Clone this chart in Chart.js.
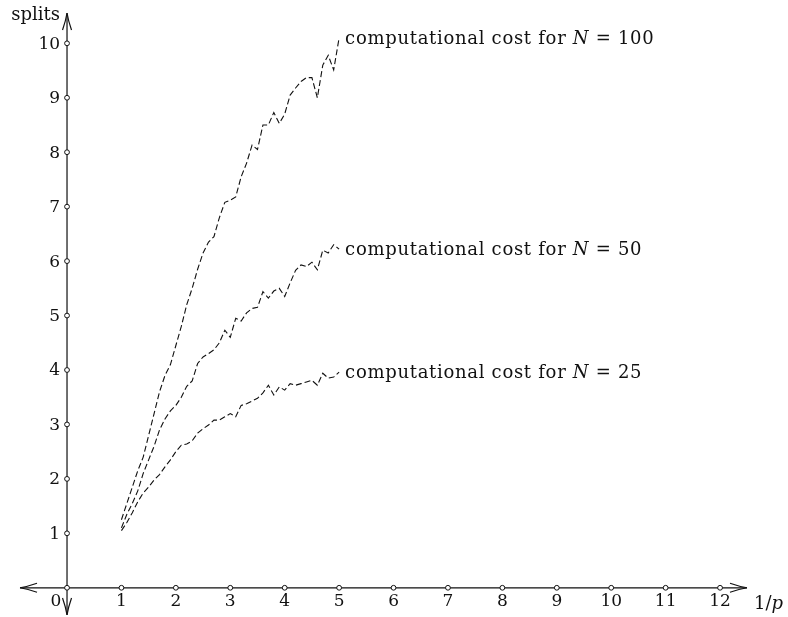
<!DOCTYPE html>
<html>
<head>
<meta charset="utf-8">
<script src="https://cdn.jsdelivr.net/npm/chart.js@4"></script>
<style>
  body { margin: 0; background: #fff; }
  canvas { display: block; }
</style>
</head>
<body>
<canvas id="chart" width="788" height="617"></canvas>
<script>
// x values (1/p) where the costs were sampled
const xs = [1.0, 1.1, 1.2, 1.3, 1.4, 1.5, 1.6, 1.7, 1.8, 1.9,
            2.0, 2.1, 2.2, 2.3, 2.4, 2.5, 2.6, 2.7, 2.8, 2.9,
            3.0, 3.1, 3.2, 3.3, 3.4, 3.5, 3.6, 3.7, 3.8, 3.9,
            4.0, 4.1, 4.2, 4.3, 4.4, 4.5, 4.6, 4.7, 4.8, 4.9, 5.0];

// splits
const cost100 = [1.25, 1.55, 1.85, 2.15, 2.4, 2.8, 3.2, 3.6, 3.9, 4.1,
                 4.45, 4.8, 5.2, 5.5, 5.85, 6.15, 6.35, 6.45, 6.8, 7.08,
                 7.12, 7.18, 7.55, 7.8, 8.13, 8.05, 8.5, 8.5, 8.73, 8.53,
                 8.7, 9.05, 9.18, 9.3, 9.37, 9.37, 9.0, 9.6, 9.78, 9.51, 10.1];
const cost50 = [1.1, 1.35, 1.55, 1.78, 2.1, 2.35, 2.6, 2.9, 3.1, 3.25,
                3.35, 3.5, 3.7, 3.8, 4.12, 4.24, 4.3, 4.37, 4.5, 4.73,
                4.6, 4.95, 4.9, 5.05, 5.13, 5.15, 5.44, 5.32, 5.45, 5.5,
                5.35, 5.6, 5.83, 5.93, 5.9, 5.98, 5.84, 6.2, 6.15, 6.3, 6.22];
const cost25 = [1.05, 1.2, 1.38, 1.58, 1.74, 1.85, 1.98, 2.08, 2.22, 2.35,
                2.5, 2.62, 2.64, 2.7, 2.84, 2.92, 2.99, 3.08, 3.08, 3.14,
                3.2, 3.14, 3.35, 3.38, 3.43, 3.48, 3.58, 3.72, 3.54, 3.69,
                3.63, 3.75, 3.72, 3.75, 3.78, 3.81, 3.72, 3.94, 3.85, 3.87, 3.96];

const seriesN = ['100', '50', '25'];
const xTicks = [1, 2, 3, 4, 5, 6, 7, 8, 9, 10, 11, 12];
const yTicks = [1, 2, 3, 4, 5, 6, 7, 8, 9, 10];
const xTitle = '1/p';
const yTitle = 'splits';

const SERIF = '"DejaVu Serif", "Liberation Serif", serif';
const TICK_FONT = '17px ';
const TEXT_FONT = '18px ';

const toPoints = (vals) => vals.map((v, i) => ({ x: xs[i], y: v }));

// arrow head in the LaTeX style, (dx, dy) is the direction the tip points to
function arrowHead(ctx, tx, ty, dx, dy) {
    const len = 17, half = 4.5;
    const nx = -dy, ny = dx;
    ctx.beginPath();
    [-1, 1].forEach(s => {
        ctx.moveTo(tx, ty);
        ctx.quadraticCurveTo(tx - dx * len * 0.45 + nx * s * 1.2, ty - dy * len * 0.45 + ny * s * 1.2,
                             tx - dx * len + nx * s * half, ty - dy * len + ny * s * half);
    });
    ctx.stroke();
}

const axesPlugin = {
    id: 'texAxes',
    afterDraw(chart) {
        const ctx = chart.ctx;
        const xS = chart.scales.x, yS = chart.scales.y;
        const x0 = xS.getPixelForValue(0), y0 = yS.getPixelForValue(0);
        ctx.save();
        ctx.strokeStyle = '#111';
        ctx.lineWidth = 1.2;
        ctx.setLineDash([]);

        // axis lines
        ctx.beginPath();
        ctx.moveTo(xS.left, y0); ctx.lineTo(xS.right, y0);
        ctx.moveTo(x0, yS.top); ctx.lineTo(x0, yS.bottom);
        ctx.stroke();

        arrowHead(ctx, xS.right, y0, 1, 0);
        arrowHead(ctx, xS.left, y0, -1, 0);
        arrowHead(ctx, x0, yS.top, 0, -1);
        arrowHead(ctx, x0, yS.bottom, 0, 1);

        // tick circles
        const circle = (cx, cy) => {
            ctx.beginPath();
            ctx.arc(cx, cy, 2.4, 0, Math.PI * 2);
            ctx.fillStyle = '#fff';
            ctx.fill();
            ctx.lineWidth = 1;
            ctx.stroke();
        };
        circle(x0, y0);
        xTicks.forEach(v => circle(xS.getPixelForValue(v), y0));
        yTicks.forEach(v => circle(x0, yS.getPixelForValue(v)));

        // tick labels
        ctx.fillStyle = '#111';
        ctx.font = TICK_FONT + SERIF;
        ctx.textBaseline = 'middle';
        ctx.textAlign = 'center';
        xTicks.forEach(v => ctx.fillText(String(v), xS.getPixelForValue(v), y0 + 14));
        ctx.fillText('0', x0 - 11, y0 + 14);
        ctx.textAlign = 'right';
        yTicks.forEach(v => ctx.fillText(String(v), x0 - 7, yS.getPixelForValue(v) + 1));

        // axis titles
        ctx.font = TEXT_FONT + SERIF;
        ctx.textAlign = 'right';
        ctx.textBaseline = 'alphabetic';
        ctx.fillText(yTitle, x0 - 7, 20);
        ctx.textAlign = 'left';
        ctx.textBaseline = 'middle';
        const [num, den] = xTitle.split('/');
        let tx = xS.right + 7;
        ctx.fillText(num + '/', tx, y0 + 17);
        tx += ctx.measureText(num + '/').width;
        ctx.font = 'italic ' + TEXT_FONT + SERIF;
        ctx.fillText(den, tx, y0 + 17);

        // curve labels at the end of each curve
        ctx.letterSpacing = '0.7px';
        chart.data.datasets.forEach((ds, i) => {
            const meta = chart.getDatasetMeta(i);
            const last = meta.data[meta.data.length - 1];
            let lx = last.x + 6;
            const ly = last.y + 1;
            const parts = [
                ['computational cost for ', ''],
                ['N', 'italic '],
                [' = ' + seriesN[i], '']
            ];
            parts.forEach(([t, st]) => {
                ctx.font = st + TEXT_FONT + SERIF;
                ctx.fillText(t, lx, ly);
                lx += ctx.measureText(t).width;
            });
        });
        ctx.restore();
    }
};

const dashed = {
    borderColor: '#111',
    borderWidth: 1.1,
    borderDash: [6, 3],
    pointRadius: 0,
    tension: 0,
    fill: false
};

new Chart(document.getElementById('chart'), {
    type: 'line',
    data: {
        datasets: [
            Object.assign({ label: 'N = ' + seriesN[0], data: toPoints(cost100) }, dashed),
            Object.assign({ label: 'N = ' + seriesN[1], data: toPoints(cost50) }, dashed),
            Object.assign({ label: 'N = ' + seriesN[2], data: toPoints(cost25) }, dashed)
        ]
    },
    options: {
        responsive: false,
        animation: false,
        devicePixelRatio: 1,
        layout: { padding: { left: 20, right: 41, top: 13, bottom: 2 } },
        plugins: { legend: { display: false }, tooltip: { enabled: false } },
        scales: {
            x: { type: 'linear', min: -0.864, max: 12.495, display: false },
            y: { type: 'linear', min: -0.50, max: 10.557, display: false }
        }
    },
    plugins: [axesPlugin]
});
</script>
</body>
</html>
